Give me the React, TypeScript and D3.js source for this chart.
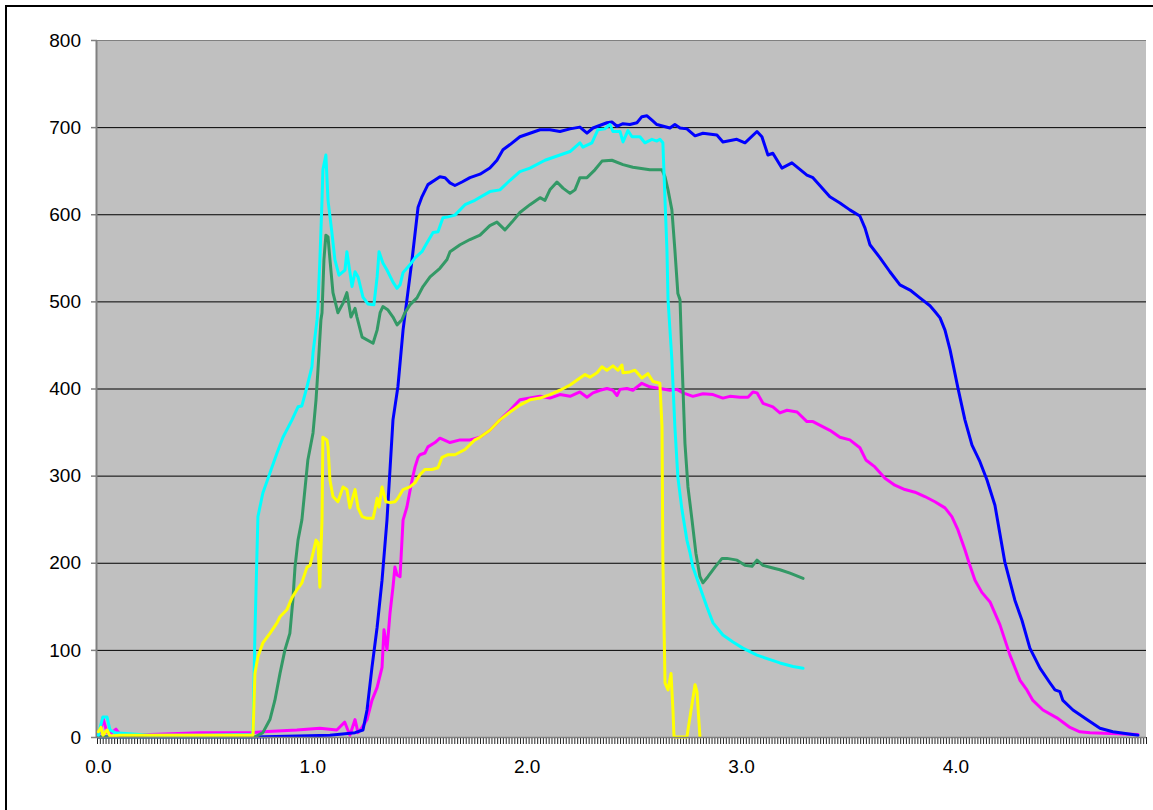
import React from "react";
import * as d3 from "d3";

// ---- data (time in s, value) ----
const blueT = [0, 0.707, 1.08, 1.197, 1.234, 1.253, 1.276, 1.3, 1.323, 1.346, 1.374, 1.397, 1.421, 1.463, 1.491, 1.509, 1.537, 1.593, 1.617, 1.64, 1.663, 1.696, 1.733, 1.78, 1.826, 1.859, 1.887, 1.92, 1.966, 2.013, 2.06, 2.106, 2.153, 2.2, 2.246, 2.279, 2.307, 2.372, 2.395, 2.419, 2.447, 2.479, 2.512, 2.535, 2.559, 2.582, 2.605, 2.666, 2.689, 2.713, 2.745, 2.783, 2.82, 2.885, 2.913, 2.978, 3.016, 3.072, 3.095, 3.123, 3.146, 3.188, 3.235, 3.305, 3.333, 3.412, 3.459, 3.505, 3.552, 3.576, 3.599, 3.646, 3.692, 3.739, 3.786, 3.832, 3.879, 3.903, 3.926, 3.949, 3.973, 4.009, 4.042, 4.075, 4.112, 4.145, 4.182, 4.228, 4.275, 4.308, 4.345, 4.392, 4.439, 4.462, 4.485, 4.499, 4.546, 4.611, 4.672, 4.732, 4.849];
const blueV = [0, 0, 2, 5, 8, 31, 80, 126, 180, 249, 364, 402, 467, 548, 608, 620, 634, 643, 642, 636, 633, 637, 642, 646, 653, 662, 674, 680, 689, 693, 697, 697, 695, 698, 700, 693, 699, 705, 706, 701, 704, 703, 705, 712, 713, 708, 703, 699, 703, 699, 698, 690, 693, 691, 683, 686, 682, 695, 689, 668, 670, 653, 659, 645, 642, 620, 613, 605, 598, 584, 565, 550, 534, 519, 513, 504, 495, 488, 481, 467, 444, 401, 364, 335, 316, 295, 266, 201, 157, 134, 102, 79, 62, 54, 52, 42, 31, 20, 10, 6, 2];

const magentaT = [0, 0.012, 0.021, 0.04, 0.063, 0.082, 0.101, 0.24, 0.474, 0.716, 0.767, 0.926, 1.033, 1.112, 1.149, 1.173, 1.197, 1.211, 1.23, 1.253, 1.276, 1.3, 1.323, 1.332, 1.346, 1.36, 1.374, 1.383, 1.393, 1.407, 1.421, 1.439, 1.463, 1.477, 1.491, 1.5, 1.523, 1.537, 1.57, 1.593, 1.64, 1.687, 1.733, 1.78, 1.826, 1.873, 1.92, 1.966, 2.013, 2.06, 2.106, 2.153, 2.2, 2.246, 2.279, 2.307, 2.34, 2.372, 2.4, 2.419, 2.433, 2.465, 2.493, 2.535, 2.572, 2.619, 2.666, 2.699, 2.727, 2.773, 2.82, 2.867, 2.913, 2.946, 2.993, 3.03, 3.053, 3.072, 3.1, 3.146, 3.179, 3.212, 3.259, 3.305, 3.333, 3.412, 3.459, 3.505, 3.552, 3.58, 3.622, 3.669, 3.715, 3.762, 3.809, 3.855, 3.902, 3.949, 3.981, 4.009, 4.042, 4.065, 4.089, 4.121, 4.159, 4.205, 4.252, 4.299, 4.331, 4.359, 4.406, 4.471, 4.532, 4.578, 4.625, 4.849];
const magentaV = [2, 10, 22, 5, 5, 9, 3, 3, 5, 5, 6, 8, 10, 8, 17, 2, 20, 5, 11, 20, 42, 57, 80, 123, 100, 142, 172, 195, 186, 184, 249, 264, 295, 310, 321, 324, 326, 333, 338, 343, 338, 341, 341, 344, 352, 364, 375, 387, 389, 391, 389, 393, 391, 396, 390, 395, 398, 400, 398, 392, 399, 400, 398, 406, 402, 400, 398, 399, 395, 391, 394, 393, 389, 391, 390, 390, 396, 395, 383, 379, 372, 375, 373, 362, 362, 352, 344, 341, 332, 318, 310, 297, 289, 284, 281, 276, 270, 263, 253, 238, 215, 197, 180, 166, 155, 129, 94, 65, 54, 42, 31, 22, 11, 6, 5, 3];

const cyanT = [0, 0.007, 0.021, 0.04, 0.054, 0.077, 0.24, 0.474, 0.716, 0.721, 0.73, 0.74, 0.744, 0.767, 0.8, 0.833, 0.861, 0.903, 0.931, 0.949, 0.973, 0.996, 1.001, 1.02, 1.024, 1.033, 1.043, 1.047, 1.061, 1.071, 1.089, 1.103, 1.122, 1.15, 1.159, 1.183, 1.197, 1.211, 1.234, 1.257, 1.285, 1.3, 1.309, 1.327, 1.346, 1.374, 1.393, 1.407, 1.421, 1.453, 1.477, 1.509, 1.532, 1.561, 1.584, 1.607, 1.631, 1.663, 1.71, 1.756, 1.826, 1.873, 1.92, 1.966, 2.013, 2.083, 2.153, 2.2, 2.246, 2.26, 2.302, 2.33, 2.362, 2.386, 2.4, 2.433, 2.447, 2.47, 2.489, 2.526, 2.549, 2.582, 2.605, 2.619, 2.633, 2.643, 2.652, 2.657, 2.675, 2.689, 2.703, 2.722, 2.745, 2.759, 2.773, 2.806, 2.839, 2.867, 2.913, 2.96, 3.006, 3.072, 3.119, 3.179, 3.24, 3.287];
const cyanV = [2, 10, 23, 23, 8, 5, 2, 2, 3, 5, 119, 215, 253, 280, 303, 326, 344, 364, 379, 380, 402, 425, 441, 479, 494, 548, 616, 651, 668, 616, 579, 548, 530, 536, 557, 517, 534, 528, 505, 497, 496, 528, 557, 544, 536, 522, 515, 519, 533, 542, 550, 557, 567, 579, 580, 596, 597, 599, 611, 616, 626, 628, 639, 649, 653, 662, 668, 672, 682, 677, 682, 697, 698, 703, 695, 695, 683, 696, 689, 689, 682, 686, 684, 686, 682, 616, 559, 502, 433, 356, 298, 261, 226, 212, 195, 172, 149, 131, 117, 109, 102, 94, 90, 85, 81, 79];

const greenT = [0, 0.73, 0.767, 0.8, 0.823, 0.847, 0.87, 0.893, 0.907, 0.917, 0.931, 0.949, 0.977, 1.001, 1.015, 1.024, 1.038, 1.043, 1.052, 1.061, 1.071, 1.08, 1.094, 1.117, 1.141, 1.159, 1.178, 1.197, 1.206, 1.23, 1.281, 1.3, 1.314, 1.327, 1.351, 1.374, 1.393, 1.416, 1.43, 1.453, 1.486, 1.514, 1.547, 1.593, 1.626, 1.64, 1.687, 1.733, 1.78, 1.826, 1.859, 1.896, 1.929, 1.966, 2.013, 2.06, 2.083, 2.106, 2.139, 2.167, 2.2, 2.223, 2.246, 2.279, 2.316, 2.349, 2.395, 2.447, 2.493, 2.572, 2.629, 2.643, 2.657, 2.675, 2.689, 2.703, 2.713, 2.722, 2.736, 2.75, 2.769, 2.787, 2.806, 2.82, 2.843, 2.876, 2.909, 2.932, 2.979, 3.016, 3.049, 3.072, 3.1, 3.146, 3.179, 3.226, 3.287];
const greenV = [0, 0, 5, 20, 42, 73, 100, 119, 157, 195, 226, 249, 318, 349, 387, 421, 479, 487, 548, 576, 574, 548, 510, 487, 498, 510, 482, 492, 482, 459, 452, 467, 487, 494, 490, 482, 473, 479, 487, 496, 504, 517, 528, 538, 548, 557, 565, 571, 576, 587, 591, 582, 591, 602, 611, 619, 616, 628, 637, 630, 624, 628, 642, 642, 651, 661, 662, 657, 654, 651, 651, 643, 628, 605, 559, 509, 502, 433, 337, 287, 249, 211, 184, 177, 184, 195, 205, 205, 203, 197, 196, 203, 197, 194, 192, 188, 182];

const yellowT = [0, 0.012, 0.021, 0.04, 0.054, 0.101, 0.474, 0.721, 0.73, 0.744, 0.767, 0.8, 0.833, 0.847, 0.879, 0.903, 0.926, 0.949, 0.973, 0.987, 1.001, 1.015, 1.024, 1.033, 1.038, 1.043, 1.047, 1.066, 1.071, 1.08, 1.094, 1.117, 1.141, 1.159, 1.173, 1.197, 1.211, 1.23, 1.253, 1.281, 1.29, 1.3, 1.309, 1.323, 1.341, 1.36, 1.383, 1.397, 1.421, 1.453, 1.477, 1.5, 1.523, 1.556, 1.584, 1.603, 1.631, 1.663, 1.71, 1.756, 1.78, 1.826, 1.873, 1.92, 1.966, 2.013, 2.06, 2.106, 2.153, 2.2, 2.246, 2.27, 2.293, 2.326, 2.349, 2.372, 2.4, 2.423, 2.442, 2.447, 2.479, 2.503, 2.535, 2.563, 2.587, 2.619, 2.629, 2.633, 2.643, 2.657, 2.671, 2.68, 2.685, 2.745, 2.783, 2.792, 2.806];
const yellowV = [6, 11, 2, 8, 1, 2, 2, 2, 73, 92, 108, 119, 131, 138, 146, 160, 169, 177, 195, 197, 211, 226, 223, 172, 215, 249, 344, 341, 333, 295, 276, 270, 287, 284, 263, 284, 263, 253, 251, 251, 261, 274, 264, 287, 270, 269, 270, 274, 284, 287, 292, 301, 307, 307, 309, 321, 324, 324, 330, 341, 344, 352, 364, 373, 381, 387, 389, 393, 398, 404, 412, 416, 413, 418, 425, 421, 426, 421, 427, 418, 419, 421, 412, 417, 408, 406, 356, 203, 62, 54, 73, 31, 0, 0, 60, 52, 0];

const yTicks = [0, 100, 200, 300, 400, 500, 600, 700, 800];
const xTickLabels = ["0.0", "1.0", "2.0", "3.0", "4.0"];
const xTickValues = [0, 1, 2, 3, 4];

const series = [
  { name: "magenta", color: "#FF00FF", t: magentaT, v: magentaV },
  { name: "blue", color: "#0000FF", t: blueT, v: blueV },
  { name: "green", color: "#339966", t: greenT, v: greenV },
  { name: "cyan", color: "#00FFFF", t: cyanT, v: cyanV },
  { name: "yellow", color: "#FFFF00", t: yellowT, v: yellowV },
];

const W = 1153;
const H = 810;
const PL = 97;
const PR = 1146;
const PT = 40;
const PB = 737;
const CATS = 367; // categories along the axis, 75 per second
const STEP = 1 / 75;

export default function App() {
  const x = d3.scaleLinear().domain([-0.5 * STEP, (CATS - 0.5) * STEP]).range([PL, PR]);
  const y = d3.scaleLinear().domain([0, 800]).range([PB, PT]);
  const line = d3
    .line<[number, number]>()
    .x((d) => x(d[0]))
    .y((d) => y(d[1]));
  const minorTicks = d3.range(0, CATS + 1).map((k) => PL + (k * (PR - PL)) / CATS);
  const font = "'Liberation Sans', Arial, sans-serif";

  return (
    <svg
      width={W}
      height={H}
      style={{ position: "absolute", left: 0, top: 0, background: "#fff" }}
    >
      <rect x={0} y={0} width={W} height={H} fill="#fff" />
      {/* outer chart border (top/left visible) */}
      <rect x={6} y={6} width={W + 20} height={H + 20} fill="none" stroke="#000" strokeWidth={2} />
      {/* plot area */}
      <rect x={PL} y={PT} width={PR - PL} height={PB - PT} fill="#C0C0C0" />
      {yTicks.map((t) =>
        t > 0 && t < 800 ? (
          <line key={"g" + t} x1={PL} x2={PR} y1={y(t) + 0.5} y2={y(t) + 0.5} stroke="#000" strokeWidth={1} />
        ) : null
      )}
      <line x1={PL} x2={PR} y1={PT + 0.5} y2={PT + 0.5} stroke="#808080" strokeWidth={1} />
      {/* y axis */}
      <line x1={PL - 0.5} x2={PL - 0.5} y1={PT} y2={PB + 1} stroke="#808080" strokeWidth={2} />
      {yTicks.map((t) => (
        <g key={"yt" + t}>
          <line x1={91} x2={PL} y1={y(t) + 0.5} y2={y(t) + 0.5} stroke="#808080" strokeWidth={1.5} />
          <text
            x={81}
            y={y(t)}
            dy="0.35em"
            textAnchor="end"
            fontFamily={font}
            fontSize={19}
            fill="#000"
          >
            {t}
          </text>
        </g>
      ))}
      {/* x axis */}
      {minorTicks.map((px, i) => (
        <line key={"xt" + i} x1={px + 0.5} x2={px + 0.5} y1={PB} y2={PB + 7} stroke="#222" strokeWidth={1} />
      ))}
      {xTickValues.map((t, i) => (
        <text
          key={"xl" + i}
          x={x(t)}
          y={773}
          textAnchor="middle"
          fontFamily={font}
          fontSize={19}
          fill="#000"
        >
          {xTickLabels[i]}
        </text>
      ))}
      {/* series */}
      {series.map((s) => (
        <path
          key={s.name}
          d={line(s.t.map((t, i) => [t, s.v[i]] as [number, number])) || ""}
          fill="none"
          stroke={s.color}
          strokeWidth={3}
          strokeLinejoin="round"
          strokeLinecap="round"
        />
      ))}
      <line x1={PL} x2={PR} y1={PB + 0.5} y2={PB + 0.5} stroke="#808080" strokeWidth={1.5} />
    </svg>
  );
}
